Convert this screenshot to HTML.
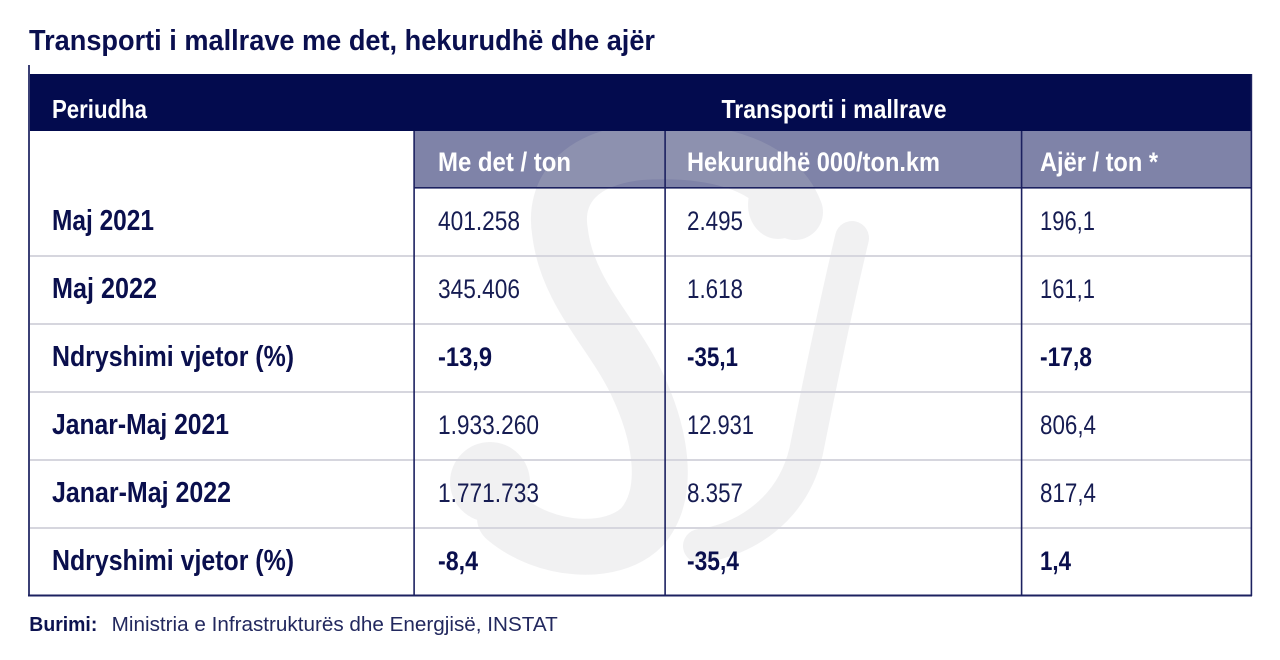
<!DOCTYPE html>
<html>
<head>
<meta charset="utf-8">
<style>
  html, body { margin: 0; padding: 0; background: #ffffff; }
  body { width: 1280px; height: 660px; overflow: hidden; }
  svg { display: block; }
  text { font-family: "Liberation Sans", "DejaVu Sans", sans-serif; }
  .b { font-weight: bold; }
</style>
</head>
<body>
<svg width="1280" height="660" viewBox="0 0 1280 660" xmlns="http://www.w3.org/2000/svg">
  <defs>
    <clipPath id="wm">
      <rect x="30" y="131" width="1221" height="464"/>
    </clipPath>
  </defs>
  <rect x="0" y="0" width="1280" height="660" fill="#ffffff"/>

  <!-- subheader band -->
  <rect x="414" y="131" width="838" height="57" fill="#7f83a8"/>

  <!-- watermark -->
  <g clip-path="url(#wm)">
    <g opacity="0.22">
      <path d="M 795 212 C 775 160, 705 148, 640 152 C 580 158, 553 190, 560 232 C 567 292, 612 332, 636 382 C 660 432, 672 492, 642 527 C 612 557, 545 552, 505 518"
            fill="none" stroke="#c2c2c8" stroke-width="56" stroke-linecap="round"/>
      <circle cx="490" cy="482" r="40" fill="#c2c2c8"/>
      <path d="M 852 238 C 832 322, 816 402, 806 452 C 792 510, 745 540, 700 546"
            fill="none" stroke="#c2c2c8" stroke-width="34" stroke-linecap="round"/>
      <ellipse cx="778" cy="205" rx="30" ry="34" fill="#c2c2c8"/>
    </g>
  </g>

  <!-- header band -->
  <rect x="29" y="74" width="1223" height="57" fill="#030b4e"/>

  <!-- row separators -->
  <rect x="30" y="255" width="1221" height="2" fill="#d6d6de"/>
  <rect x="30" y="323" width="1221" height="2" fill="#d6d6de"/>
  <rect x="30" y="391" width="1221" height="2" fill="#d6d6de"/>
  <rect x="30" y="459" width="1221" height="2" fill="#d6d6de"/>
  <rect x="30" y="527" width="1221" height="2" fill="#d6d6de"/>

  <!-- subheader bottom line -->
  <rect x="414" y="187" width="838" height="1.6" fill="#1c2160"/>

  <!-- vertical lines -->
  <rect x="413.3" y="131" width="1.6" height="465" fill="#1c2160"/>
  <rect x="664.3" y="131" width="1.6" height="465" fill="#1c2160"/>
  <rect x="1020.8" y="131" width="1.6" height="465" fill="#1c2160"/>
  <rect x="1250.6" y="74" width="1.6" height="522" fill="#1c2160"/>
  <rect x="28" y="65" width="2" height="530" fill="#3b4075"/>

  <!-- bottom line -->
  <rect x="28" y="594.5" width="1224" height="2" fill="#1c2160"/>

  <!-- title -->
  <text class="b" x="29" y="50" font-size="29" fill="#0a0f4f" textLength="626" lengthAdjust="spacingAndGlyphs">Transporti i mallrave me det, hekurudhë dhe ajër</text>

  <!-- header -->
  <text class="b" x="52" y="118" font-size="26" fill="#ffffff" textLength="95" lengthAdjust="spacingAndGlyphs">Periudha</text>
  <text class="b" x="721.5" y="118" font-size="26" fill="#ffffff" textLength="225" lengthAdjust="spacingAndGlyphs">Transporti i mallrave</text>

  <!-- subheader -->
  <text class="b" x="438" y="171" font-size="27" fill="#ffffff" textLength="133" lengthAdjust="spacingAndGlyphs">Me det / ton</text>
  <text class="b" x="687" y="171" font-size="27" fill="#ffffff" textLength="253" lengthAdjust="spacingAndGlyphs">Hekurudhë 000/ton.km</text>
  <text class="b" x="1040" y="171" font-size="27" fill="#ffffff" textLength="118" lengthAdjust="spacingAndGlyphs">Ajër / ton *</text>

  <!-- row labels -->
  <g fill="#0a0f4d">
    <text class="b" x="52" y="230" font-size="29" textLength="102" lengthAdjust="spacingAndGlyphs">Maj 2021</text>
    <text class="b" x="52" y="298" font-size="29" textLength="105" lengthAdjust="spacingAndGlyphs">Maj 2022</text>
    <text class="b" x="52" y="366" font-size="29" textLength="242" lengthAdjust="spacingAndGlyphs">Ndryshimi vjetor (%)</text>
    <text class="b" x="52" y="434" font-size="29" textLength="177" lengthAdjust="spacingAndGlyphs">Janar-Maj 2021</text>
    <text class="b" x="52" y="502" font-size="29" textLength="179" lengthAdjust="spacingAndGlyphs">Janar-Maj 2022</text>
    <text class="b" x="52" y="570" font-size="29" textLength="242" lengthAdjust="spacingAndGlyphs">Ndryshimi vjetor (%)</text>
  </g>

  <!-- column: Me det -->
  <g fill="#161c52" font-size="27">
    <text x="438" y="230" textLength="82" lengthAdjust="spacingAndGlyphs">401.258</text>
    <text x="438" y="298" textLength="82" lengthAdjust="spacingAndGlyphs">345.406</text>
    <text class="b" x="438" y="366" textLength="54" lengthAdjust="spacingAndGlyphs" fill="#0a0f4d">-13,9</text>
    <text x="438" y="434" textLength="101" lengthAdjust="spacingAndGlyphs">1.933.260</text>
    <text x="438" y="502" textLength="101" lengthAdjust="spacingAndGlyphs">1.771.733</text>
    <text class="b" x="438" y="570" textLength="40" lengthAdjust="spacingAndGlyphs" fill="#0a0f4d">-8,4</text>
  </g>

  <!-- column: Hekurudhë -->
  <g fill="#161c52" font-size="27">
    <text x="687" y="230" textLength="56" lengthAdjust="spacingAndGlyphs">2.495</text>
    <text x="687" y="298" textLength="56" lengthAdjust="spacingAndGlyphs">1.618</text>
    <text class="b" x="687" y="366" textLength="51" lengthAdjust="spacingAndGlyphs" fill="#0a0f4d">-35,1</text>
    <text x="687" y="434" textLength="67" lengthAdjust="spacingAndGlyphs">12.931</text>
    <text x="687" y="502" textLength="56" lengthAdjust="spacingAndGlyphs">8.357</text>
    <text class="b" x="687" y="570" textLength="52" lengthAdjust="spacingAndGlyphs" fill="#0a0f4d">-35,4</text>
  </g>

  <!-- column: Ajër -->
  <g fill="#161c52" font-size="27">
    <text x="1040" y="230" textLength="55" lengthAdjust="spacingAndGlyphs">196,1</text>
    <text x="1040" y="298" textLength="55" lengthAdjust="spacingAndGlyphs">161,1</text>
    <text class="b" x="1040" y="366" textLength="52" lengthAdjust="spacingAndGlyphs" fill="#0a0f4d">-17,8</text>
    <text x="1040" y="434" textLength="56" lengthAdjust="spacingAndGlyphs">806,4</text>
    <text x="1040" y="502" textLength="56" lengthAdjust="spacingAndGlyphs">817,4</text>
    <text class="b" x="1040" y="570" textLength="31" lengthAdjust="spacingAndGlyphs" fill="#0a0f4d">1,4</text>
  </g>

  <!-- footer -->
  <text class="b" x="29.3" y="631" font-size="20" fill="#0c1250" textLength="68" lengthAdjust="spacingAndGlyphs">Burimi:</text>
  <text x="111.7" y="631" font-size="20.5" fill="#22285e" textLength="446" lengthAdjust="spacingAndGlyphs">Ministria e Infrastrukturës dhe Energjisë, INSTAT</text>
</svg>
</body>
</html>
